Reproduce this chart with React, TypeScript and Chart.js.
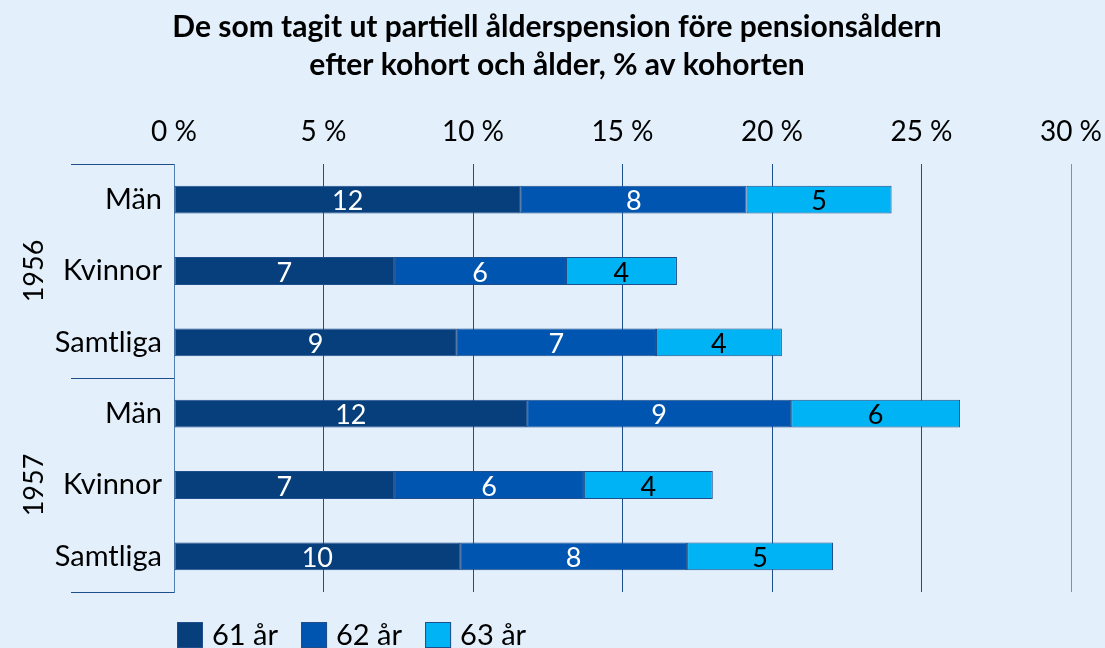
import React, { useEffect, useRef } from "react";
import { Chart, registerables } from "chart.js";

Chart.register(...registerables);

const titleLines = [
  "De som tagit ut partiell ålderspension före pensionsåldern",
  "efter kohort och ålder, % av kohorten",
];
const categories = ["Män", "Kvinnor", "Samtliga", "Män", "Kvinnor", "Samtliga"];
const groups = ["1956", "1957"];
const seriesNames = ["61 år", "62 år", "63 år"];
const age61 = [11.6, 7.36, 9.46, 11.81, 7.36, 9.57];
const age62 = [7.55, 5.75, 6.66, 8.83, 6.35, 7.59];
const age63 = [4.85, 3.71, 4.21, 5.65, 4.31, 4.88];
const seriesColors = ["#063F7C", "#0055B1", "#00B3F4"];
const labelColors = ["#FFFFFF", "#FFFFFF", "#000000"];

const FONT = "Lato";
const BG = "#E3F0FB";
const GRID = "#1F4E8C";

export default function App() {
  const ref = useRef<HTMLCanvasElement | null>(null);

  useEffect(() => {
    document.body.style.margin = "0";
    document.body.style.background = BG;
    const canvas = ref.current!;

    const overlay = {
      id: "overlay",
      beforeDraw(chart: any) {
        const ctx = chart.ctx;
        ctx.save();
        ctx.fillStyle = BG;
        ctx.fillRect(0, 0, chart.width, chart.height);
        ctx.fillStyle = "#000";
        ctx.font = `bold 30px ${FONT}`;
        ctx.textAlign = "center";
        ctx.textBaseline = "middle";
        ctx.fillText(titleLines[0], 557, 27);
        ctx.fillText(titleLines[1], 557, 65);
        ctx.restore();
      },
      afterDatasetsDraw(chart: any) {
        const ctx = chart.ctx;
        ctx.save();
        ctx.font = `27px ${FONT}`;
        ctx.textAlign = "center";
        ctx.textBaseline = "middle";
        chart.data.datasets.forEach((ds: any, di: number) => {
          const meta = chart.getDatasetMeta(di);
          meta.data.forEach((bar: any, i: number) => {
            const cx = (bar.x + bar.base) / 2;
            ctx.fillStyle = labelColors[di];
            ctx.fillText(String(Math.round(ds.data[i])), cx, bar.y + 2);
          });
        });
        ctx.restore();
      },
      afterDraw(chart: any) {
        const ctx = chart.ctx;
        const area = chart.chartArea;
        ctx.save();
        ctx.strokeStyle = GRID;
        ctx.lineWidth = 1;
        const per = categories.length / groups.length;
        const step = (area.bottom - area.top) / categories.length;
        for (let g = 0; g <= groups.length; g++) {
          const yy = Math.round(area.top + g * per * step) + 0.5;
          ctx.beginPath();
          ctx.moveTo(71, yy);
          ctx.lineTo(area.left, yy);
          ctx.stroke();
        }
        ctx.fillStyle = "#000";
        ctx.font = `27px ${FONT}`;
        ctx.textAlign = "center";
        ctx.textBaseline = "middle";
        groups.forEach((gname, g) => {
          const cy = area.top + (g * per + per / 2) * step;
          ctx.save();
          ctx.translate(34, cy);
          ctx.rotate(-Math.PI / 2);
          ctx.fillText(gname, 0, 0);
          ctx.restore();
        });
        // legend
        ctx.font = `29px ${FONT}`;
        ctx.textAlign = "left";
        ctx.textBaseline = "middle";
        let x = 177;
        const by = 622;
        seriesNames.forEach((name, i) => {
          ctx.fillStyle = seriesColors[i];
          ctx.fillRect(x, by, 26, 26);
          ctx.strokeStyle = GRID;
          ctx.strokeRect(x + 0.5, by + 0.5, 25, 25);
          ctx.fillStyle = "#000";
          ctx.fillText(name, x + 35, by + 14);
          x += 35 + ctx.measureText(name).width + 23;
        });
        ctx.restore();
      },
    };

    const chart = new Chart(canvas, {
      type: "bar",
      data: {
        labels: categories,
        datasets: [age61, age62, age63].map((d, i) => ({
          label: seriesNames[i],
          data: d,
          backgroundColor: seriesColors[i],
          borderColor: GRID,
          borderWidth: 1,
          borderSkipped: false,
          barPercentage: 0.39,
          categoryPercentage: 1,
        })),
      },
      options: {
        indexAxis: "y",
        responsive: false,
        animation: false,
        devicePixelRatio: 1,
        layout: { padding: { top: 100, bottom: 56, right: 34, left: 0 } },
        plugins: {
          legend: { display: false },
          title: { display: false },
          tooltip: { enabled: false },
        },
        scales: {
          x: {
            position: "top",
            stacked: true,
            min: 0,
            max: 30,
            ticks: {
              stepSize: 5,
              callback: (v: any) => `${v} %`,
              font: { family: FONT, size: 28 },
              color: "#000",
              padding: 15,
              maxRotation: 0,
            },
            grid: {
              color: (c: any) => (c.tick && c.tick.value === 30 ? "#7096C0" : GRID),
              drawTicks: false,
            },
            border: { display: false },
            afterFit: (s: any) => {
              s.height = 64;
              s.paddingLeft = 0;
              s.paddingRight = 0;
            },
          },
          y: {
            stacked: true,
            ticks: {
              font: { family: FONT, size: 29 },
              color: "#000",
              padding: 4,
            },
            grid: { display: false },
            border: { display: true, color: "#4F7FB3", width: 1 },
            afterFit: (s: any) => {
              s.width = 174;
              s.paddingTop = 0;
              s.paddingBottom = 0;
            },
          },
        },
      },
      plugins: [overlay],
    } as any);
    return () => chart.destroy();
  }, []);

  return (
    <div style={{ width: 1105, height: 648, background: BG }}>
      <canvas ref={ref} width={1105} height={648} />
    </div>
  );
}
